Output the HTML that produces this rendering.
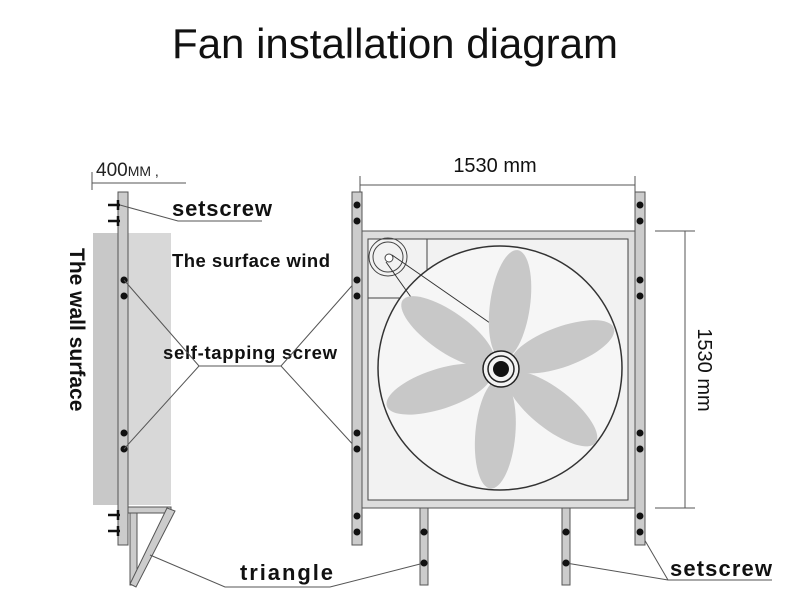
<!DOCTYPE html>
<html><head><style>body{margin:0;background:#fff}svg{display:block}</style></head><body>
<svg width="800" height="600" viewBox="0 0 800 600" xmlns="http://www.w3.org/2000/svg" font-family="Liberation Sans, sans-serif">
<text x="395" y="58" font-size="42" text-anchor="middle" fill="#111">Fan installation diagram</text>
<text x="96" y="176" font-size="19" fill="#222">400<tspan font-size="14">MM ,</tspan></text>
<path d="M92 172V190M92 183H186" stroke="#555" stroke-width="1" fill="none"/>
<rect x="93" y="233" width="78" height="272" fill="#c8c8c8"/>
<rect x="118" y="233" width="53" height="272" fill="#d8d8d8"/>
<text transform="translate(70,248) rotate(90)" font-size="21" font-weight="bold" fill="#111">The wall surface</text>
<rect x="118" y="192" width="10" height="353" fill="#ccc" stroke="#555"/>
<g stroke="#111" stroke-width="2.5"><path d="M108 205H120M118 200V210M108 221H120M118 216V226M108 515H120M118 510V520M108 531H120M118 526V536"/></g>
<g fill="#111"><circle cx="124" cy="280" r="3.5"/><circle cx="124" cy="296" r="3.5"/><circle cx="124" cy="433" r="3.5"/><circle cx="124" cy="449" r="3.5"/></g>
<rect x="128" y="507" width="43" height="6" fill="#ccc" stroke="#555"/>
<rect x="130" y="513" width="7" height="72" fill="#ccc" stroke="#555"/>
<path d="M167 508L175 511L136 587L130 584Z" fill="#ccc" stroke="#555"/>
<text x="172" y="216" font-size="22" font-weight="bold" fill="#111" textLength="100">setscrew</text>
<path d="M120 205L178 221H262" stroke="#555" fill="none"/>
<text x="172" y="267" font-size="18.5" font-weight="bold" fill="#111" textLength="158">The surface wind</text>
<text x="163" y="359" font-size="18.5" font-weight="bold" fill="#111" textLength="174">self-tapping screw</text>
<path d="M124 280L199 366H281L357 280M124 449L199 366M281 366L357 449" stroke="#555" fill="none"/>
<text x="240" y="580" font-size="22" font-weight="bold" fill="#111" textLength="93">triangle</text>
<path d="M150 555L225 587H330L424 563" stroke="#555" fill="none"/>
<text x="670" y="576" font-size="22" font-weight="bold" fill="#111" textLength="102">setscrew</text>
<path d="M640 532L668 580H772M566 563L668 580" stroke="#555" fill="none"/>
<text x="495" y="172" font-size="20" text-anchor="middle" fill="#111">1530 mm</text>
<path d="M360 176V192M635 176V192M360 185H635" stroke="#555" fill="none"/>
<path d="M655 231H695M655 508H695M685 231V508" stroke="#555" fill="none"/>
<text transform="translate(698,370) rotate(90)" font-size="20" text-anchor="middle" fill="#111">1530 mm</text>
<rect x="360" y="231" width="275" height="277" fill="#ddd" stroke="#555"/>
<rect x="368" y="239" width="260" height="261" fill="#f2f2f2" stroke="#444"/>
<path d="M368 298H427V239" stroke="#444" fill="none"/>
<circle cx="500" cy="368" r="122" fill="#f6f6f6" stroke="#333" stroke-width="1.5"/>
<circle cx="388" cy="257" r="19" fill="none" stroke="#444"/>
<circle cx="388" cy="257" r="15" fill="none" stroke="#444"/>
<circle cx="389" cy="258" r="4" fill="#fff" stroke="#444"/>
<path d="M386 262L413 300M392 255L490 323" stroke="#333" fill="none"/>
<g fill="#c8c8c8">
<g transform="translate(501,369)">
<ellipse cx="0" cy="-65" rx="20" ry="55" transform="rotate(8)"/>
<ellipse cx="0" cy="-65" rx="20" ry="55" transform="rotate(70)"/>
<ellipse cx="0" cy="-65" rx="20" ry="55" transform="rotate(128)"/>
<ellipse cx="0" cy="-65" rx="20" ry="55" transform="rotate(185)"/>
<ellipse cx="0" cy="-65" rx="20" ry="55" transform="rotate(252)"/>
<ellipse cx="0" cy="-65" rx="20" ry="55" transform="rotate(305)"/>
</g></g>
<circle cx="501" cy="369" r="18" fill="#f2f2f2" stroke="#222" stroke-width="1.5"/>
<circle cx="501" cy="369" r="13" fill="none" stroke="#222" stroke-width="1.5"/>
<circle cx="501" cy="369" r="8" fill="#111"/>
<rect x="352" y="192" width="10" height="353" fill="#ccc" stroke="#555"/>
<rect x="635" y="192" width="10" height="353" fill="#ccc" stroke="#555"/>
<rect x="420" y="508" width="8" height="77" fill="#ccc" stroke="#555"/>
<rect x="562" y="508" width="8" height="77" fill="#ccc" stroke="#555"/>
<g fill="#111">
<circle cx="357" cy="205" r="3.5"/><circle cx="357" cy="221" r="3.5"/><circle cx="357" cy="280" r="3.5"/><circle cx="357" cy="296" r="3.5"/><circle cx="357" cy="433" r="3.5"/><circle cx="357" cy="449" r="3.5"/><circle cx="357" cy="516" r="3.5"/><circle cx="357" cy="532" r="3.5"/>
<circle cx="640" cy="205" r="3.5"/><circle cx="640" cy="221" r="3.5"/><circle cx="640" cy="280" r="3.5"/><circle cx="640" cy="296" r="3.5"/><circle cx="640" cy="433" r="3.5"/><circle cx="640" cy="449" r="3.5"/><circle cx="640" cy="516" r="3.5"/><circle cx="640" cy="532" r="3.5"/>
<circle cx="424" cy="532" r="3.5"/><circle cx="424" cy="563" r="3.5"/><circle cx="566" cy="532" r="3.5"/><circle cx="566" cy="563" r="3.5"/>
</g>
</svg>
</body></html>
